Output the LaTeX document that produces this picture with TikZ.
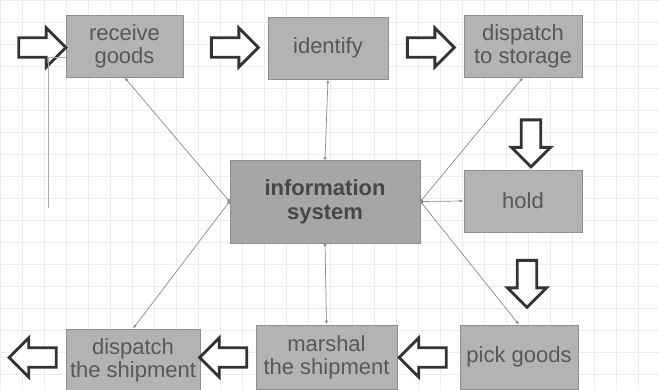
\documentclass[tikz,border=0pt]{standalone}
\usepackage{fontspec}
\setmainfont{Liberation Sans}
\usetikzlibrary{shapes.arrows,arrows.meta}
\definecolor{boxfill}{HTML}{B3B3B3}
\definecolor{infofill}{HTML}{A6A6A6}
\definecolor{boxline}{HTML}{8E8E8E}
\definecolor{textgray}{HTML}{585858}
\definecolor{arrowdark}{HTML}{333333}
\definecolor{linkgray}{HTML}{8A8A8A}
\begin{document}
\begin{tikzpicture}[x=1pt, y=-1pt,
  proc box/.style={rectangle, fill=boxfill, draw=boxline, line width=0.8pt, text=textgray, align=center, inner sep=0pt, font=\fontsize{22}{23}\selectfont},
  info box/.style={proc box, fill=infofill, text=black!72, font=\bfseries\fontsize{22}{24}\selectfont},
  flow/.style={single arrow, draw=arrowdark, line width=2.8pt, fill=white, inner sep=8pt, minimum height=47pt, minimum width=39pt, single arrow head extend=9.5pt},
  link/.style={draw=linkgray, line width=0.7pt, {Circle[length=3pt]}-{Latex[length=4pt]}}]
\useasboundingbox[fill=white] (0,0) rectangle (659,389);
\foreach \gx in {0,22,...,658} \draw[black!7] (\gx,0) -- (\gx,389);
\foreach \gy in {0,22,...,388} \draw[black!7] (0,\gy) -- (659,\gy);
% boxes
\node[proc box, minimum width=117, minimum height=62] (rg) at (124.5,46) {receive\\goods};
\node[proc box, minimum width=120, minimum height=62] (id) at (328,48) {identify};
\node[proc box, minimum width=118, minimum height=62] (ds) at (523,46) {dispatch\\to storage};
\node[info box, minimum width=190, minimum height=83] (is) at (325,201.5) {information\\system};
\node[proc box, minimum width=118, minimum height=62] (hd) at (523,201) {hold};
\node[proc box, minimum width=134, minimum height=62] (sh) at (133,360) {dispatch\\the shipment};
\node[proc box, minimum width=141, minimum height=64] (ms) at (326.5,357) {marshal\\the shipment};
\node[proc box, minimum width=118, minimum height=64] (pg) at (519,357) {pick goods};
% block arrows
\node[flow] (in) at (37.5,47.5) {};
\node[flow] (f1) at (230,47.5) {};
\node[flow] (f2) at (426,47.5) {};
\node[flow, rotate=-90] (f3) at (531,138.5) {};
\node[flow, rotate=-90] (f4) at (527,279) {};
\node[flow, rotate=180] (f5) at (427.5,357.5) {};
\node[flow, rotate=180] (f6) at (228,357.5) {};
\node[flow, rotate=180] (out) at (37.5,357.5) {};
% links to the information system
\draw[link] (is.west) -- (rg.south);
\draw[link] (is.west) -- (sh.north);
\draw[link] (is.north) -- (id.south);
\draw[link] (is.south) -- (ms.north);
\draw[link] (is.east) -- (ds.south);
\draw[link] (is.east) -- (hd.west);
\draw[link] (is.east) -- (pg.north);
\coordinate (tail) at (48,208);
\draw[linkgray!70, line width=0.8pt] (tail) |- ([yshift=-11pt]rg.west);
\end{tikzpicture}
\end{document}
